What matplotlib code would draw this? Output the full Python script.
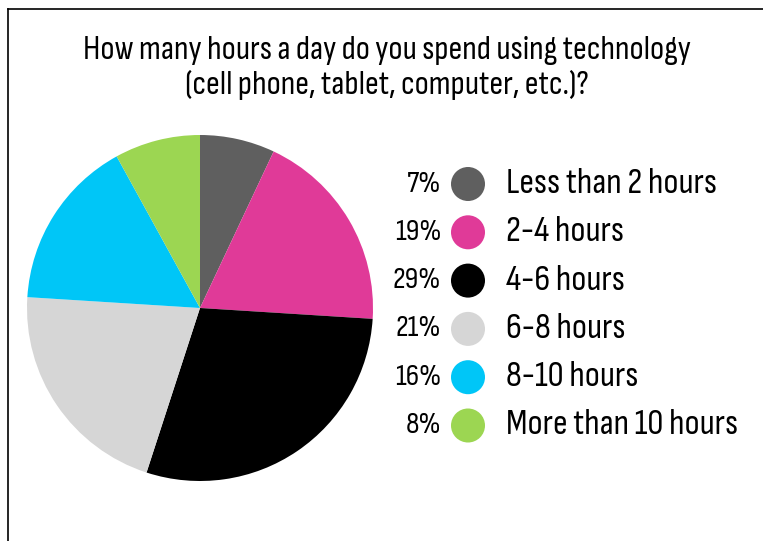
import matplotlib
matplotlib.use("Agg")
import matplotlib.pyplot as plt
from matplotlib.patches import Circle
from matplotlib.lines import Line2D

categories = ["Less than 2 hours", "2-4 hours", "4-6 hours", "6-8 hours",
              "8-10 hours", "More than 10 hours"]
shares = [7, 19, 29, 21, 16, 8]
colors = ["#5f5f5f", "#e03a98", "#000000", "#d6d6d6", "#00c6f7", "#9cd652"]
title = "How many hours a day do you spend using technology\n(cell phone, tablet, computer, etc.)?"

family = ["Sofia Sans Condensed", "DejaVu Sans"]

W, H = 763, 541
fig = plt.figure(figsize=(W / 100, H / 100), dpi=100)
fig.patch.set_facecolor("white")

# frame lines along top and left
fig.add_artist(Line2D([8 / W, 1.0], [1 - 9 / H, 1 - 9 / H], color="black", lw=1.2))
fig.add_artist(Line2D([8 / W, 8 / W], [0.0, 1 - 9 / H], color="black", lw=1.2))

fig.text(387 / W, 1 - 68 / H, title, ha="center", va="center", fontsize=24.5,
         family=family, weight="normal", linespacing=1.2)

# pie
cx, cy, r = 200, 308, 173
ax = fig.add_axes([(cx - r) / W, 1 - (cy + r) / H, 2 * r / W, 2 * r / H])
ax.pie(shares, colors=colors, startangle=90, counterclock=False,
       wedgeprops=dict(linewidth=0))
ax.set_aspect("equal")
ax.set_xlim(-1, 1)
ax.set_ylim(-1, 1)
ax.axis("off")

# legend rows
lax = fig.add_axes([0, 0, 1, 1])
lax.set_xlim(0, W)
lax.set_ylim(H, 0)
lax.axis("off")
y0, dy = 184, 48.3
for i, (cat, s, c) in enumerate(zip(categories, shares, colors)):
    y = y0 + i * dy
    lax.text(441, y, f"{s}%", ha="right", va="center", fontsize=22,
             family=family, weight="normal")
    lax.add_patch(Circle((468, y), 17, color=c, lw=0))
    lax.text(506, y, cat, ha="left", va="center", fontsize=26,
             family=family, weight="normal")

fig.savefig("out.png", dpi=100, facecolor="white")
